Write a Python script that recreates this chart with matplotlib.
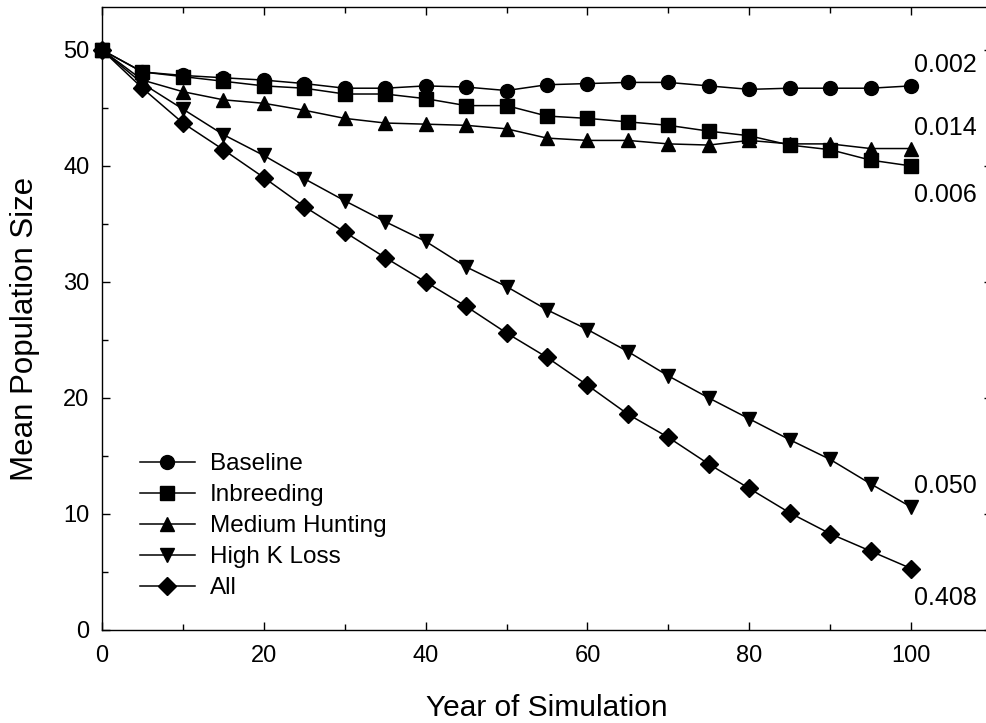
import matplotlib
matplotlib.use('Agg')
import matplotlib.pyplot as plt
from matplotlib.ticker import MultipleLocator

plt.rcParams['font.family'] = ['Liberation Sans', 'DejaVu Sans']

# years of the simulation
years = [0, 5, 10, 15, 20, 25, 30, 35, 40, 45, 50, 55, 60, 65, 70, 75, 80, 85, 90, 95, 100]

# mean population size per scenario
baseline = [50, 48.1, 47.8, 47.6, 47.4, 47.1, 46.7, 46.7, 46.9, 46.8, 46.5, 47.0, 47.1, 47.2, 47.2, 46.9, 46.6, 46.7, 46.7, 46.7, 46.9]
inbreeding = [50, 48.1, 47.7, 47.3, 46.9, 46.7, 46.2, 46.2, 45.8, 45.2, 45.2, 44.3, 44.1, 43.8, 43.5, 43.0, 42.6, 41.8, 41.4, 40.5, 40.0]
medium_hunting = [50, 47.4, 46.4, 45.7, 45.4, 44.8, 44.1, 43.7, 43.6, 43.5, 43.2, 42.4, 42.2, 42.2, 41.9, 41.8, 42.2, 41.9, 41.9, 41.5, 41.5]
high_k_loss = [50, 47.1, 44.9, 42.7, 40.9, 38.9, 37.0, 35.2, 33.5, 31.3, 29.6, 27.6, 25.9, 24.0, 21.9, 20.0, 18.2, 16.4, 14.7, 12.6, 10.6]
all_factors = [50, 46.7, 43.7, 41.4, 39.0, 36.5, 34.3, 32.1, 30.0, 27.9, 25.6, 23.5, 21.1, 18.6, 16.6, 14.3, 12.2, 10.1, 8.3, 6.8, 5.3]

series_names = ['Baseline', 'Inbreeding', 'Medium Hunting', 'High K Loss', 'All']
series_vals = [baseline, inbreeding, medium_hunting, high_k_loss, all_factors]
series_markers = ['o', 's', '^', 'v', 'D']

# extinction probability printed at the end of each line
end_labels = ['0.002', '0.006', '0.014', '0.050', '0.408']
end_offsets = [15, -21, 15, 15, -21]  # points above/below last value

fig = plt.figure(figsize=(9.87, 7.23), dpi=100)
ax = fig.add_axes([102 / 987, 1 - 630 / 723, 890 / 987, 623 / 723])

for name, vals, mk in zip(series_names, series_vals, series_markers):
    ms = 10 if mk != 'D' else 9
    ax.plot(years, vals, color='black', lw=1.1, marker=mk, ms=ms,
            mfc='black', mec='black', label=name, clip_on=False)

for lab, vals, off in zip(end_labels, series_vals, end_offsets):
    ax.annotate(lab, (years[-1], vals[-1]), xytext=(2, off), textcoords='offset points',
                ha='left', va='center', fontsize=18)

ax.set_xlim(0, 110)
ax.set_ylim(0, 53.7)
ax.xaxis.set_major_locator(MultipleLocator(20))
ax.xaxis.set_minor_locator(MultipleLocator(10))
ax.yaxis.set_major_locator(MultipleLocator(10))
ax.yaxis.set_minor_locator(MultipleLocator(5))
ax.tick_params(which='both', direction='in', top=True, right=True, labelsize=17, width=1)
ax.tick_params(which='major', length=6)
ax.tick_params(which='minor', length=4, right=False)
ax.tick_params(axis='x', pad=11)
ax.tick_params(axis='y', pad=9)
for sp in ax.spines.values():
    sp.set_linewidth(1.0)

ax.set_xlabel('Year of Simulation', fontsize=21.5, labelpad=19)
ax.set_ylabel('Mean Population Size', fontsize=22.5)
ax.yaxis.set_label_coords(-0.0697, 0.483)

ax.legend(loc='upper left', bbox_to_anchor=(0.0427, 0.284), frameon=False, fontsize=17.5,
          handlelength=2.26, handletextpad=0.62, labelspacing=0.37, borderpad=0, borderaxespad=0)

fig.savefig('out.png', dpi=100)
